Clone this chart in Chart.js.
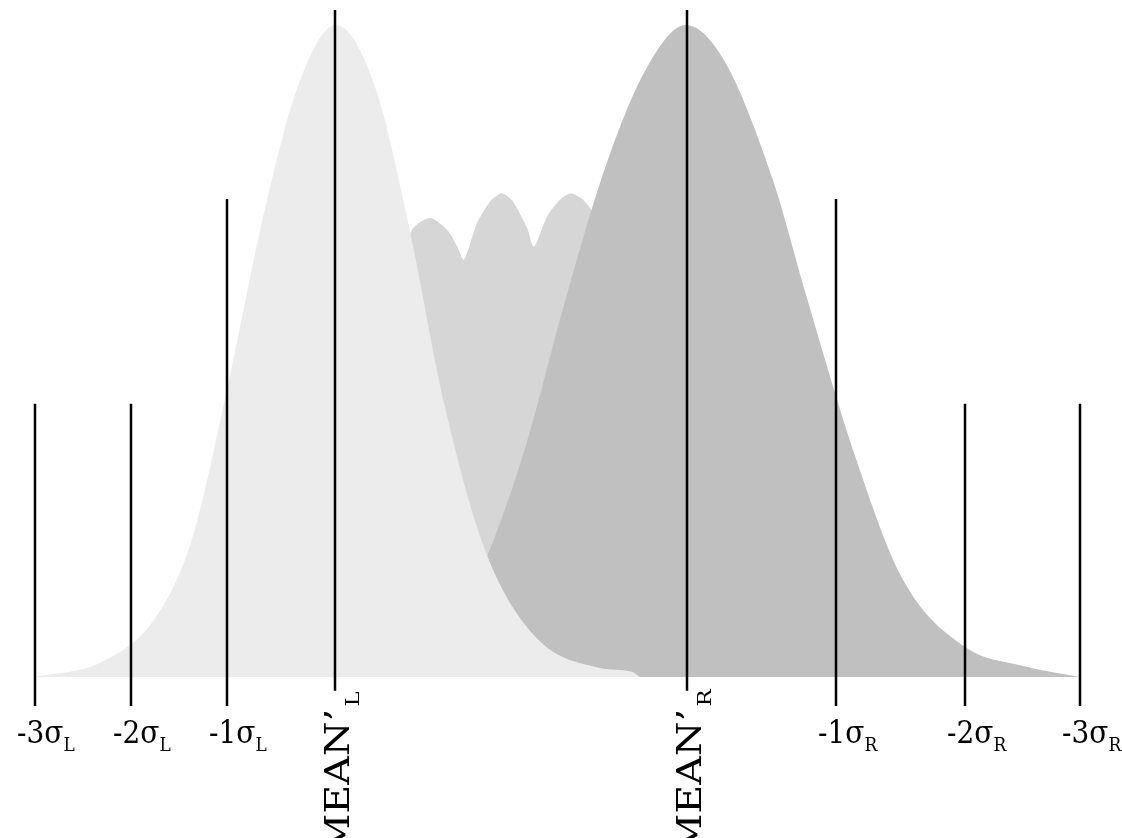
<!DOCTYPE html>
<html>
<head>
<meta charset="utf-8">
<title>Two distributions</title>
<script src="https://cdn.jsdelivr.net/npm/chart.js@4.4.1/dist/chart.umd.min.js"></script>
<style>
    html, body { margin: 0; padding: 0; background: #ffffff; }
    #chart { display: block; }
</style>
</head>
<body>
<canvas id="chart" width="1122" height="838"></canvas>
<script>
// Left distribution (light), position vs. height in % of peak
const lightX = [35, 102, 155, 191, 227, 265, 300, 336, 375, 408, 445, 485, 534, 600, 632, 640];
const lightY = [0, 2.3, 9.0, 20.7, 44.0, 71.8, 91.5, 100, 90.5, 69.8, 41.4, 19.5, 6.4, 1.4, 0.8, 0];

// Middle (bumpy) distribution
const midX = [293, 340, 380, 412, 430, 447, 457, 464, 477, 490, 502, 513, 527, 534, 547, 560, 571, 583, 594, 620, 680, 760, 840, 900];
const midY = [0, 30.2, 54.8, 68.6, 70.4, 68.6, 66.1, 64.0, 69.6, 72.9, 74.2, 72.9, 68.9, 66.0, 70.6, 73.2, 74.2, 73.2, 71.0, 62.4, 42.5, 17.9, 2.6, 0];

// Right distribution (dark)
const darkX = [430, 489, 526, 567, 608, 648, 686, 724, 773, 807, 857, 903, 965, 1023, 1080];
const darkY = [0, 19.2, 35.6, 58.7, 79.4, 93.8, 100, 94.6, 76.2, 58.1, 33.0, 14.9, 4.6, 1.7, 0];

// Marker lines and their labels
const markerX = [35, 131, 227, 335, 687, 836, 965, 1080];
const markerTop = [41.9, 41.9, 73.3, 102.3, 102.3, 73.3, 41.9, 41.9];
const markerBottom = [-4.45, -4.45, -4.45, -2.1, -2.1, -4.45, -4.45, -4.45];
const markerText = ['-3σ', '-2σ', '-1σ', 'MEAN’', 'MEAN’', '-1σ', '-2σ', '-3σ'];
const markerSub = ['L', 'L', 'L', 'L', 'R', 'R', 'R', 'R'];
const markerRotated = [false, false, false, true, true, false, false, false];

const Y_MIN = -24.69;
const Y_MAX = 103.83;

function toPoints(xs, ys) {
    return xs.map((x, i) => ({ x: x, y: ys[i] }));
}

const areaDefaults = {
    fill: 'origin',
    borderWidth: 0,
    borderColor: 'rgba(0,0,0,0)',
    pointRadius: 0,
    cubicInterpolationMode: 'monotone'
};

const datasets = [
    Object.assign({}, areaDefaults, {
        label: 'middle',
        data: toPoints(midX, midY),
        backgroundColor: '#d6d6d6',
        cubicInterpolationMode: 'default',
        tension: 0.25,
        order: 3
    }),
    Object.assign({}, areaDefaults, {
        label: 'right',
        data: toPoints(darkX, darkY),
        backgroundColor: '#c0c0c0',
        order: 2
    }),
    Object.assign({}, areaDefaults, {
        label: 'left',
        data: toPoints(lightX, lightY),
        backgroundColor: '#ececec',
        order: 1
    })
];

markerX.forEach((x, i) => {
    datasets.push({
        label: 'marker ' + i,
        data: [{ x: x, y: markerBottom[i] }, { x: x, y: markerTop[i] }],
        borderColor: '#000000',
        borderWidth: 2.5,
        pointRadius: 0,
        fill: false,
        order: 0
    });
});

// draws the labels under the marker lines, with subscripts
const markerLabels = {
    id: 'markerLabels',
    afterDraw(chart) {
        const ctx = chart.ctx;
        const xScale = chart.scales.x;
        ctx.save();
        ctx.fillStyle = '#000000';
        ctx.textBaseline = 'alphabetic';
        markerX.forEach((x, i) => {
            const px = xScale.getPixelForValue(x);
            ctx.save();
            if (markerRotated[i]) {
                ctx.translate(px + 14, 709);
                ctx.rotate(-Math.PI / 2);
                ctx.scale(1.2, 1);
                ctx.font = '33px "DejaVu Serif"';
                ctx.textAlign = 'right';
                ctx.fillText(markerText[i], 0, 0);
                ctx.font = '19px "DejaVu Serif"';
                ctx.textAlign = 'left';
                ctx.fillText(markerSub[i], 2, 10);
            } else {
                ctx.translate(px - 18, 743);
                ctx.scale(1, 1.12);
                ctx.font = '28px "DejaVu Serif"';
                ctx.textAlign = 'left';
                ctx.fillText(markerText[i], 0, 0);
                const w = ctx.measureText(markerText[i]).width;
                ctx.font = '17px "DejaVu Serif"';
                ctx.fillText(markerSub[i], w, 7.5);
            }
            ctx.restore();
        });
        ctx.restore();
    }
};

new Chart(document.getElementById('chart'), {
    type: 'line',
    data: { datasets: datasets },
    options: {
        responsive: false,
        animation: false,
        devicePixelRatio: 1,
        layout: { padding: 0 },
        plugins: {
            legend: { display: false },
            tooltip: { enabled: false }
        },
        scales: {
            x: { type: 'linear', min: 0, max: 1122, display: false },
            y: { type: 'linear', min: Y_MIN, max: Y_MAX, display: false }
        }
    },
    plugins: [markerLabels]
});
</script>
</body>
</html>
